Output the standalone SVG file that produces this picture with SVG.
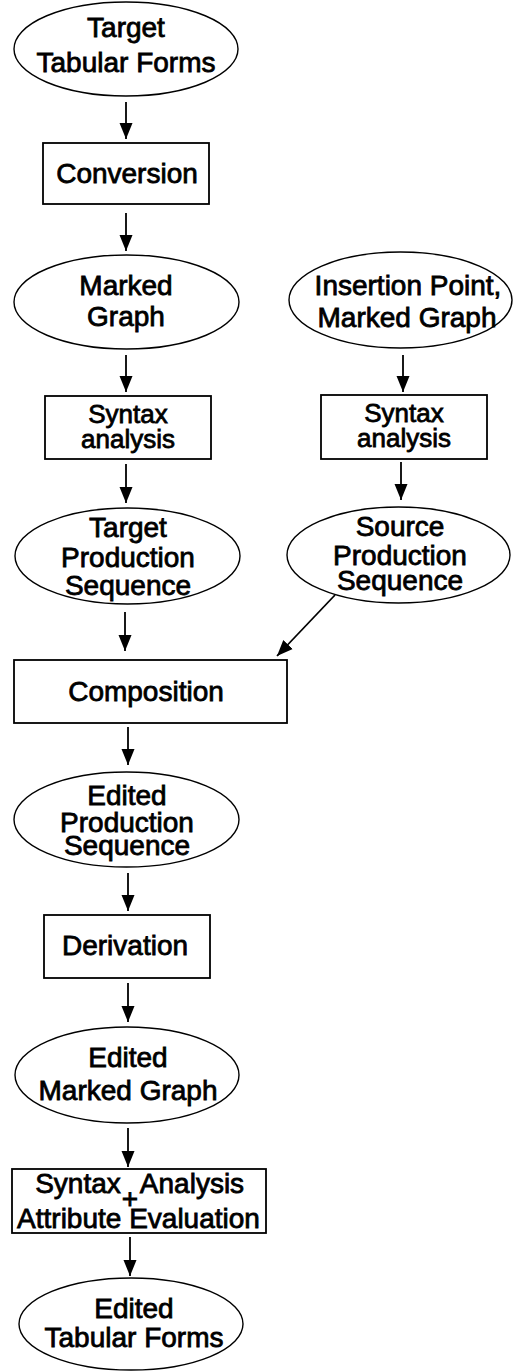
<svg xmlns="http://www.w3.org/2000/svg" width="513" height="1371" viewBox="0 0 513 1371">
<style>
.n ellipse,.n rect{fill:#fff;stroke:#000}
.n ellipse{stroke-width:1.4}
.n rect{stroke-width:1.8}
text{font-family:"Liberation Sans",Arial,sans-serif;font-size:28px;fill:#000;stroke:#000;stroke-width:0.8;text-anchor:middle}
text.s{font-size:26px}
#connectors line{stroke:#000;stroke-width:1.8;marker-end:url(#ah)}
</style>
<defs>
<marker id="ah" markerUnits="userSpaceOnUse" markerWidth="16" markerHeight="16" refX="16" refY="6.5" orient="auto" viewBox="0 0 16 13">
<path d="M0,0 L16,6.5 L0,13 Z" fill="#000"/>
</marker>
</defs>
<g id="n1" class="n"><ellipse cx="126" cy="49" rx="112" ry="47"/><text x="126" y="37">Target</text><text x="126" y="72">Tabular Forms</text></g>
<g id="n2" class="n"><rect x="43" y="143" width="166" height="61"/><text x="127" y="183">Conversion</text></g>
<g id="n3" class="n"><ellipse cx="126.5" cy="302" rx="112.5" ry="47"/><text x="126" y="295">Marked</text><text x="126" y="326">Graph</text></g>
<g id="n4" class="n"><rect x="45" y="396" width="166" height="63"/><text class="s" x="128" y="423">Syntax</text><text class="s" x="128" y="448">analysis</text></g>
<g id="n5" class="n"><ellipse cx="127.5" cy="556" rx="112.5" ry="48"/><text x="128" y="537">Target</text><text x="128" y="567">Production</text><text x="128" y="595">Sequence</text></g>
<g id="n6" class="n"><ellipse cx="400.5" cy="300" rx="111.5" ry="48"/><text x="408" y="295">Insertion Point,</text><text x="407" y="327">Marked Graph</text></g>
<g id="n7" class="n"><rect x="321" y="395" width="166" height="64"/><text class="s" x="404" y="422">Syntax</text><text class="s" x="404" y="447">analysis</text></g>
<g id="n8" class="n"><ellipse cx="398.5" cy="555" rx="111.5" ry="48"/><text x="400" y="536">Source</text><text x="400" y="565">Production</text><text x="400" y="590">Sequence</text></g>
<g id="n9" class="n"><rect x="14" y="660" width="273" height="63"/><text x="146" y="701">Composition</text></g>
<g id="n10" class="n"><ellipse cx="126.5" cy="819.5" rx="112.5" ry="47.5"/><text x="127" y="805">Edited</text><text x="127" y="832">Production</text><text x="127" y="855">Sequence</text></g>
<g id="n11" class="n"><rect x="44" y="915" width="166" height="63"/><text x="125" y="955">Derivation</text></g>
<g id="n12" class="n"><ellipse cx="127" cy="1075" rx="112" ry="48"/><text x="128" y="1067">Edited</text><text x="128" y="1100">Marked Graph</text></g>
<g id="n13" class="n"><rect x="12" y="1169" width="254" height="64"/><text x="78" y="1193">Syntax</text><text x="192" y="1193">Analysis</text><text x="130" y="1208">+</text><text x="138.5" y="1228">Attribute Evaluation</text></g>
<g id="n14" class="n"><ellipse cx="131" cy="1324" rx="112" ry="46"/><text x="134" y="1318">Edited</text><text x="134" y="1347">Tabular Forms</text></g>
<g id="connectors">
<line x1="126" y1="102" x2="126" y2="139"/>
<line x1="126" y1="213" x2="126" y2="251"/>
<line x1="126" y1="355" x2="126" y2="392"/>
<line x1="126" y1="464" x2="126" y2="503"/>
<line x1="125" y1="612" x2="125" y2="651"/>
<line x1="403" y1="355" x2="403" y2="392"/>
<line x1="401" y1="462" x2="401" y2="500"/>
<line x1="335" y1="595" x2="277" y2="656"/>
<line x1="128" y1="727" x2="128" y2="765"/>
<line x1="128" y1="873" x2="128" y2="911"/>
<line x1="128" y1="983" x2="128" y2="1022"/>
<line x1="128" y1="1128" x2="128" y2="1167"/>
<line x1="130" y1="1237" x2="130" y2="1276"/>
</g>
</svg>
